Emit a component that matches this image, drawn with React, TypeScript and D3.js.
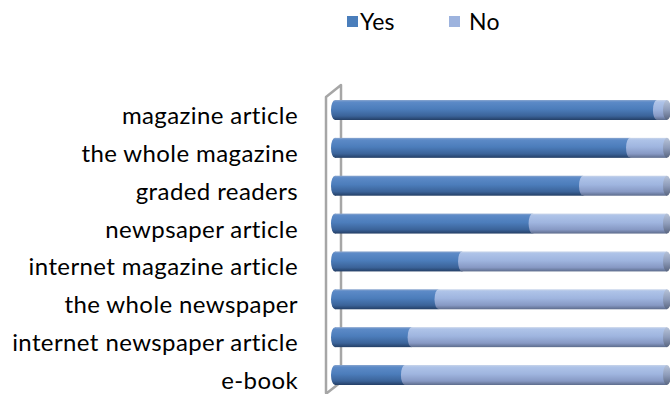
import React from "react";
import * as d3 from "d3";

const categories = [
  "magazine article",
  "the whole magazine",
  "graded readers",
  "newpsaper article",
  "internet magazine article",
  "the whole newspaper",
  "internet newspaper article",
  "e-book",
];
const yesValues = [97, 89, 75, 60, 39, 32, 24, 22];
const noValues = [3, 11, 25, 40, 61, 68, 76, 78];
const seriesNames = ["Yes", "No"];

const W = 670;
const H = 394;
const FONT = "Lato, 'Open Sans', sans-serif";

export default function App() {
  const x = d3.scaleLinear().domain([0, 100]).range([331, 667]);
  const y = d3.scalePoint<string>().domain(categories).range([110, 375]);
  const bh = 20;
  const rx = 4;

  const wallPath = d3.path();
  wallPath.moveTo(326, 97);
  wallPath.lineTo(341, 85);
  wallPath.lineTo(341, 382);
  wallPath.lineTo(327, 393);
  wallPath.lineTo(326, 393);
  wallPath.closePath();

  return (
    <svg
      width={W}
      height={H}
      style={{ position: "absolute", left: 0, top: 0, background: "#fff" }}
    >
      <defs>
        <linearGradient id="gYes" x1="0" y1="0" x2="0" y2="1">
          <stop offset="0" stopColor="#8aa6cf" />
          <stop offset="0.1" stopColor="#5c8ac7" />
          <stop offset="0.45" stopColor="#4c7dbb" />
          <stop offset="0.8" stopColor="#3b6399" />
          <stop offset="1" stopColor="#243f66" />
        </linearGradient>
        <linearGradient id="gNo" x1="0" y1="0" x2="0" y2="1">
          <stop offset="0" stopColor="#c9d5ea" />
          <stop offset="0.1" stopColor="#aec3e8" />
          <stop offset="0.45" stopColor="#9fb5df" />
          <stop offset="0.8" stopColor="#8799c4" />
          <stop offset="1" stopColor="#5d6c8c" />
        </linearGradient>
        <linearGradient id="gEnd" x1="0" y1="0" x2="0" y2="1">
          <stop offset="0" stopColor="#b7c3d8" />
          <stop offset="0.5" stopColor="#8e9cba" />
          <stop offset="1" stopColor="#5a6680" />
        </linearGradient>
      </defs>

      {/* legend */}
      <g fontFamily={FONT} fontSize={23} fill="#000" letterSpacing={0.3}>
        <rect x={347} y={16} width={11} height={11} fill="#4a7ebb" />
        <text x={360} y={30}>{seriesNames[0]}</text>
        <rect x={449} y={16} width={11} height={11} fill="#9db3de" />
        <text x={469} y={30}>{seriesNames[1]}</text>
      </g>

      {/* wall */}
      <path
        d={wallPath.toString()}
        fill="#fff"
        stroke="#a6a6a6"
        strokeWidth={2.5}
        strokeLinejoin="round"
      />

      {/* bars */}
      {categories.map((c, i) => {
        const cy = y(c) as number;
        const top = cy - bh / 2;
        const x0 = x(0);
        const x1 = x(yesValues[i]);
        const x2 = x(yesValues[i] + noValues[i]);
        return (
          <g key={c}>
            <ellipse cx={x0 + rx} cy={cy} rx={rx} ry={bh / 2} fill="url(#gYes)" />
            <rect x={x0 + rx} y={top} width={Math.max(0, x1 - x0 - rx)} height={bh} fill="url(#gYes)" />
            <rect x={x1} y={top} width={Math.max(0, x2 - x1)} height={bh} fill="url(#gNo)" />
            <ellipse cx={x1} cy={cy} rx={rx} ry={bh / 2} fill="url(#gNo)" />
            <ellipse cx={x2} cy={cy} rx={rx} ry={bh / 2} fill="url(#gEnd)" />
          </g>
        );
      })}

      {/* category labels */}
      <g fontFamily={FONT} fontSize={24} fill="#000" textAnchor="end" letterSpacing={0.4}>
        {categories.map((c) => (
          <text key={c} x={298} y={(y(c) as number) + 14}>
            {c}
          </text>
        ))}
      </g>
    </svg>
  );
}
